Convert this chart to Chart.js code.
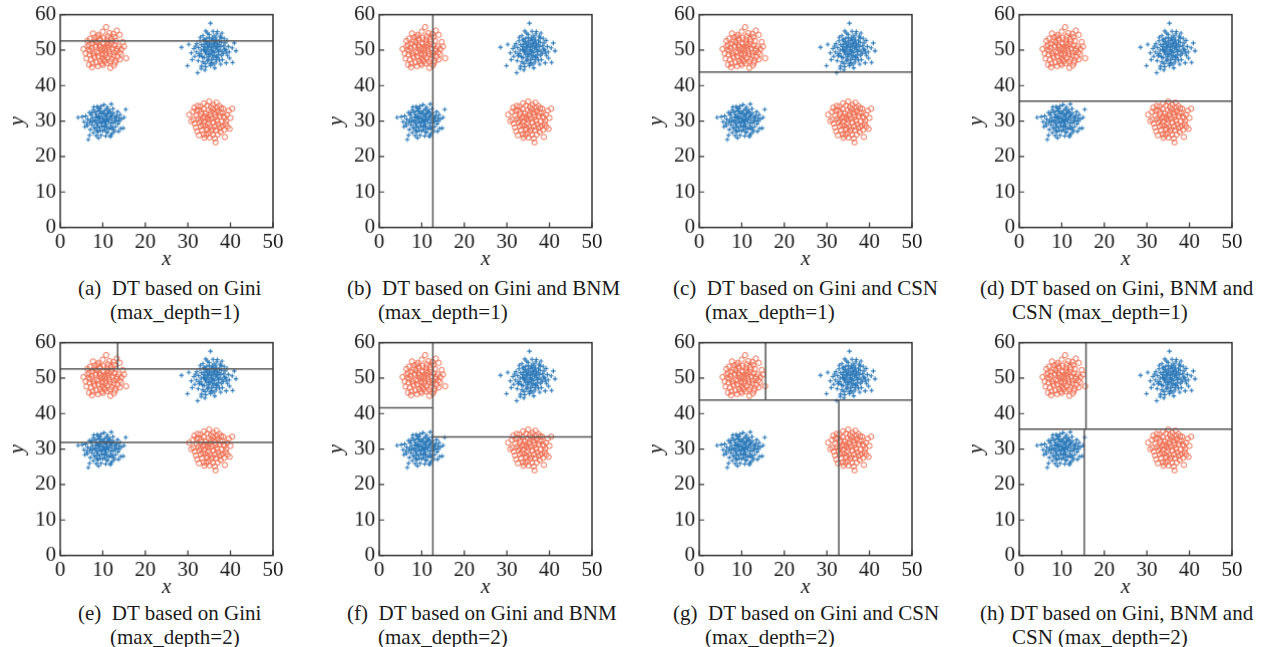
<!DOCTYPE html>
<html>
<head>
<meta charset="utf-8">
<script src="https://cdn.jsdelivr.net/npm/chart.js@4.4.0/dist/chart.umd.min.js"></script>
<style>
    body { margin: 0; background: #fff; width: 1262px; height: 647px; position: relative; overflow: hidden;
           font-family: "Liberation Serif", "Times New Roman", serif; color: #1a1a1a; }
    .box { position: absolute; }
    .cap { position: absolute; font-size: 21px; line-height: 24px; white-space: pre; color: #1a1a1a; }
</style>
</head>
<body>
<script>
// red class: circles, two clusters (top-left and bottom-right)
const redTopLeft = [
    [10.8,56.5],[13.3,55.5],[14.0,54.3],[12.5,54.6],[9.0,54.3],[8.2,53.6],[7.0,53.2],[6.4,52.6],[11.2,53.9],[10.2,53.4],
    [12.0,53.1],[13.1,52.6],[9.4,52.8],[8.6,52.2],[7.6,51.8],[6.8,51.5],[5.5,50.3],[6.6,50.1],[7.4,50.6],[8.3,50.9],
    [9.2,51.4],[10.1,51.8],[11.0,52.1],[11.9,51.6],[12.8,51.3],[13.7,51.0],[15.0,51.0],[14.4,50.3],[13.2,49.8],[12.3,50.4],
    [11.4,50.7],[10.5,50.2],[9.6,49.9],[8.7,49.5],[7.8,49.0],[6.9,48.7],[6.2,47.6],[7.2,47.4],[8.1,47.9],[9.0,48.3],
    [9.9,48.8],[10.8,49.2],[11.7,48.9],[12.6,48.4],[13.5,48.1],[14.3,48.9],[15.5,47.7],[13.0,47.0],[12.1,47.5],[11.2,47.9],
    [10.3,47.3],[9.4,46.9],[8.5,46.5],[7.6,46.2],[6.8,45.9],[7.5,45.2],[8.9,45.5],[10.0,45.8],[11.0,46.3],[11.8,45.0],
    [12.6,45.7],[9.6,50.9],[10.7,51.0],[8.0,52.7],[12.2,52.4],[13.9,49.4],[7.1,49.8],[9.9,47.7],[11.5,49.6],[10.4,46.8],
    [12.9,46.4],[6.0,49.1],[8.8,53.8],[11.6,54.8],[10.0,55.2],[7.7,54.7],[14.7,52.3],
    [10.0,50.5],[11.3,51.4],[9.1,49.2],[12.5,49.3],[8.4,51.3],[10.6,48.5],[13.3,50.4],[7.9,48.3],[11.0,53.0],[9.3,53.3],
    [12.7,53.7],[6.4,51.0],[14.0,47.4],[9.7,46.2],[11.7,46.8]
];
const redBottomRight = [
    [35.0,35.5],[36.7,35.2],[33.8,35.0],[32.3,34.3],[31.5,33.8],[34.5,34.4],[36.0,34.6],[37.4,34.2],[38.3,33.5],[40.4,33.5],
    [39.6,32.9],[30.3,31.8],[31.2,32.6],[32.6,33.1],[33.7,33.4],[34.8,33.0],[35.9,33.4],[37.0,32.8],[38.1,32.3],[39.2,31.8],
    [32.0,31.5],[33.1,31.9],[34.2,32.2],[35.3,31.7],[36.4,31.9],[37.5,31.4],[38.6,30.9],[31.3,30.4],[32.4,30.7],[33.5,30.9],
    [34.6,30.5],[35.7,30.8],[36.8,30.3],[37.9,29.9],[39.0,30.1],[40.0,30.9],[31.6,29.3],[32.7,29.6],[33.8,29.8],[34.9,29.4],
    [36.0,29.6],[37.1,29.1],[38.2,28.7],[39.3,28.4],[31.9,28.2],[33.0,28.5],[34.1,28.7],[35.2,28.3],[36.3,28.5],[37.4,28.0],
    [38.5,27.5],[32.2,27.1],[33.3,27.4],[34.4,27.6],[35.5,27.2],[36.6,27.4],[37.7,26.9],[38.7,25.5],[32.6,26.0],[33.7,26.3],
    [34.8,26.5],[35.9,26.1],[37.0,26.2],[33.9,25.3],[35.1,25.4],[36.3,25.1],[36.5,24.0],[34.6,31.1],[36.2,32.5],[33.2,32.6],
    [37.8,33.6],[35.4,34.0],[32.9,34.1],[38.9,29.2],[30.8,30.0],[39.8,27.8],
    [35.1,30.2],[34.0,31.3],[36.5,31.1],[35.5,32.6],[33.5,29.0],[36.9,29.9],[34.5,28.0],[37.6,32.2],[32.0,32.9],[38.5,31.3],
    [35.8,27.8],[33.0,30.2],[36.8,33.8],[34.3,26.0],[37.8,28.3]
];
// blue class: crosses, two clusters (top-right and bottom-left)
const blueTopRight = [
    [35.3,57.6],[28.5,50.8],[29.9,45.6],[32.3,43.6],[41.3,49.8],[40.5,46.5],[39.0,46.4],[35.9,55.3],[36.8,54.6],[34.6,54.8],
    [33.5,54.1],[36.1,54.0],[37.6,53.9],[38.5,53.3],[35.0,53.6],[33.9,53.0],[32.8,52.6],[34.3,52.4],[35.6,52.7],[36.7,52.9],
    [37.8,52.2],[39.2,52.7],[32.1,51.8],[33.2,51.5],[34.0,51.9],[35.1,51.4],[36.2,51.8],[37.3,51.5],[38.4,51.2],[39.5,51.0],
    [40.4,50.6],[31.4,50.4],[32.5,50.7],[33.6,50.2],[34.5,50.6],[35.5,50.1],[36.5,50.5],[37.5,50.0],[38.6,50.3],[39.7,49.5],
    [30.8,49.2],[32.0,49.5],[33.0,49.0],[34.1,49.4],[35.2,49.0],[36.2,49.3],[37.2,48.8],[38.3,49.0],[39.3,48.5],[31.6,48.2],
    [32.7,48.4],[33.8,47.9],[34.9,48.1],[35.9,47.7],[37.0,47.9],[38.1,47.3],[32.4,47.0],[33.5,46.7],[34.6,46.9],[35.6,46.4],
    [36.6,46.6],[37.7,46.0],[33.2,45.5],[34.2,45.3],[35.3,45.6],[36.3,45.0],[34.0,44.4],[33.1,44.8],[35.9,51.0],[34.8,50.9],
    [35.7,48.6],[36.9,50.8],[34.4,48.8],[36.4,52.2],[33.4,48.1],[37.9,48.5],[35.0,52.0],[36.0,49.8],[34.7,47.4],[37.4,52.6],
    [32.9,53.6],[35.7,53.3],[36.9,55.2],[38.0,54.8],[34.2,55.4],[38.9,50.1],[31.0,47.3],[39.8,47.7],[30.2,51.6],[40.9,52.0],
    [33.7,52.8],[36.6,47.3],[35.2,46.1],[37.1,49.6],[34.9,49.7],[36.3,48.4],
    [35.4,50.6],[34.6,51.5],[36.6,51.2],[35.8,49.4],[34.2,50.1],[37.0,50.2],[35.1,52.6],[36.0,52.9],[33.8,51.0],[37.7,51.0],
    [34.9,48.7],[36.7,48.2],[35.5,47.2],[33.9,49.9],[38.0,49.6],[34.4,53.3],[36.5,53.6],[35.0,54.4],[33.1,50.0],[38.7,52.0],
    [32.6,48.9],[36.1,46.0],[37.4,47.2],[34.0,46.2],[39.0,49.4],[31.8,51.1],[36.9,51.9],[35.6,51.6],[34.3,49.6],[37.8,53.4]
];
const blueBottomLeft = [
    [4.2,31.0],[5.2,31.2],[15.4,33.3],[12.0,34.8],[6.6,24.8],[14.8,28.0],[10.3,34.6],[8.7,34.1],[11.1,33.9],[9.4,33.5],
    [7.8,33.2],[12.4,33.5],[13.5,32.6],[6.9,32.4],[8.2,32.6],[9.3,32.8],[10.4,32.9],[11.4,32.5],[12.5,32.2],[14.1,31.8],
    [6.0,31.4],[7.3,31.7],[8.5,31.9],[9.7,32.0],[10.8,31.8],[11.9,31.5],[13.0,31.1],[14.4,30.6],[6.5,30.5],[7.6,30.8],
    [8.8,30.9],[9.9,31.0],[11.0,30.7],[12.1,30.4],[13.2,30.2],[5.6,29.8],[7.0,29.6],[8.1,29.9],[9.2,30.1],[10.3,30.2],
    [11.4,29.8],[12.5,29.5],[13.6,29.2],[6.4,28.7],[7.5,28.9],[8.6,29.0],[9.7,29.3],[10.8,29.1],[11.9,28.7],[13.0,28.4],
    [14.2,27.9],[7.1,27.6],[8.2,27.9],[9.3,28.1],[10.4,28.3],[11.5,27.8],[12.6,27.5],[13.7,27.1],[7.8,26.7],[8.9,26.9],
    [10.0,27.2],[11.1,26.8],[12.2,26.5],[6.9,26.0],[8.5,25.9],[9.6,26.0],[10.7,25.8],[11.8,25.6],[9.0,25.2],[10.1,30.6],
    [9.5,29.6],[10.9,31.3],[8.3,30.3],[11.7,31.0],[9.8,32.4],[10.6,28.8],[8.9,28.4],[12.8,30.8],[7.2,30.1],[9.1,31.4],
    [11.2,32.2],[12.3,28.1],[10.5,29.6],[13.9,30.0],[5.8,28.4],[15.0,31.0],[7.9,34.0],[11.9,26.0],[9.4,27.4],[10.9,33.4],
    [10.0,29.9],[9.3,30.7],[11.3,30.3],[10.6,31.5],[8.7,29.5],[11.9,29.3],[9.8,28.6],[10.2,32.2],[8.4,31.2],[12.2,31.6],
    [9.0,32.9],[11.6,33.0],[7.7,29.9],[12.9,29.9],[10.5,27.6],[8.0,28.2],[13.3,31.5],[9.6,34.2],[11.0,28.3],[7.4,32.3],
    [10.9,26.9],[12.7,27.0],[8.6,27.3],[13.8,30.8],[6.3,29.3],[10.7,30.0],[9.2,31.0],[11.8,32.5],[8.9,33.6],[12.0,28.0]
];

// decision boundaries for each panel: [x1, y1, x2, y2]
const splitsA = [[0,52.6,50,52.6]];
const splitsB = [[12.6,0,12.6,60]];
const splitsC = [[0,43.8,50,43.8]];
const splitsD = [[0,35.6,50,35.6]];
const splitsE = [[0,52.6,50,52.6],[13.5,52.6,13.5,60],[0,31.9,50,31.9]];
const splitsF = [[12.6,0,12.6,60],[0,41.6,12.6,41.6],[12.6,33.4,50,33.4]];
const splitsG = [[0,43.8,50,43.8],[15.6,43.8,15.6,60],[32.8,0,32.8,43.8]];
const splitsH = [[0,35.6,50,35.6],[15.7,35.6,15.7,60],[15.3,0,15.3,35.6]];

const captionLine1 = [
    '(a)  DT based on Gini', '(b)  DT based on Gini and BNM', '(c)  DT based on Gini and CSN', '(d) DT based on Gini, BNM and',
    '(e)  DT based on Gini', '(f)  DT based on Gini and BNM', '(g)  DT based on Gini and CSN', '(h) DT based on Gini, BNM and'
];
const captionLine2 = [
    '(max_depth=1)', '(max_depth=1)', '(max_depth=1)', 'CSN (max_depth=1)',
    '(max_depth=2)', '(max_depth=2)', '(max_depth=2)', 'CSN (max_depth=2)'
];

const xTicks = [0, 10, 20, 30, 40, 50];
const yTicks = [0, 10, 20, 30, 40, 50, 60];

const panelSplits = [splitsA, splitsB, splitsC, splitsD, splitsE, splitsF, splitsG, splitsH];
const plotLefts = [60, 379, 699, 1019];
const plotTops = [15, 343];
const plotSize = 212;
const cap1Lefts = [78, 347, 673, 980];
const cap2Lefts = [110, 378, 705, 1012];
const capTops = [276, 601];

const serif = '"Liberation Serif", "Times New Roman", serif';
const toPts = arr => arr.map(p => ({x: p[0], y: p[1]}));

// frame around plot area plus inward ticks on left and bottom
const frame = {
    id: 'frame',
    afterDraw(chart) {
        const {ctx, chartArea: a, scales: {x, y}} = chart;
        ctx.save();
        ctx.strokeStyle = '#333';
        ctx.lineWidth = 1.5;
        ctx.strokeRect(a.left, a.top, a.right - a.left, a.bottom - a.top);
        ctx.lineWidth = 1.2;
        ctx.beginPath();
        x.ticks.forEach(t => {
            const px = x.getPixelForValue(t.value);
            ctx.moveTo(px, a.bottom);
            ctx.lineTo(px, a.bottom - 5);
        });
        y.ticks.forEach(t => {
            const py = y.getPixelForValue(t.value);
            ctx.moveTo(a.left, py);
            ctx.lineTo(a.left + 5, py);
        });
        ctx.stroke();
        ctx.restore();
    }
};

panelSplits.forEach((splits, i) => {
    const col = i % 4, row = Math.floor(i / 4);
    const box = document.createElement('div');
    box.className = 'box';
    const canvas = document.createElement('canvas');
    canvas.width = 279;
    canvas.height = 268;
    box.appendChild(canvas);
    document.body.appendChild(box);

    const lineSets = splits.map(s => ({
        data: [{x: s[0], y: s[1]}, {x: s[2], y: s[3]}],
        showLine: true,
        borderColor: '#555',
        borderWidth: 1.5,
        pointRadius: 0,
        order: 0
    }));

    const chart = new Chart(canvas.getContext('2d'), {
        type: 'scatter',
        data: {
            datasets: [
                {
                    data: toPts(redTopLeft.concat(redBottomRight)),
                    pointStyle: 'circle',
                    pointRadius: 2.6,
                    borderWidth: 1,
                    borderColor: '#ee6a4c',
                    backgroundColor: 'rgba(255,255,255,0)',
                    order: 2
                },
                {
                    data: toPts(blueTopRight.concat(blueBottomLeft)),
                    pointStyle: 'cross',
                    pointRadius: 2.3,
                    borderWidth: 1.1,
                    borderColor: '#2a78b8',
                    order: 1
                },
                ...lineSets
            ]
        },
        options: {
            responsive: false,
            maintainAspectRatio: false,
            animation: false,
            layout: {padding: {top: 10, right: 12, left: 0, bottom: 0}},
            plugins: {legend: {display: false}, tooltip: {enabled: false}},
            scales: {
                x: {
                    type: 'linear', min: 0, max: 50,
                    afterBuildTicks: s => { s.ticks = xTicks.map(v => ({value: v})); },
                    afterFit: s => { s.height = 46; },
                    grid: {display: false, drawTicks: false},
                    border: {display: false},
                    ticks: {font: {family: serif, size: 21}, color: '#1a1a1a', padding: 2, maxRotation: 0},
                    title: {display: true, text: 'x', color: '#1a1a1a',
                            font: {family: serif, size: 21, style: 'italic'}, padding: {top: 0, bottom: 2}}
                },
                y: {
                    type: 'linear', min: 0, max: 60,
                    afterBuildTicks: s => { s.ticks = yTicks.map(v => ({value: v})); },
                    afterFit: s => { s.width = 55; },
                    grid: {display: false, drawTicks: false},
                    border: {display: false},
                    ticks: {font: {family: serif, size: 21}, color: '#1a1a1a', padding: 4},
                    title: {display: true, text: 'y', color: '#1a1a1a',
                            font: {family: serif, size: 21, style: 'italic'}, padding: {top: 0, bottom: 0}}
                }
            }
        },
        plugins: [frame]
    });

    // size the canvas so the plot area is square, then place it on the page
    const a = chart.chartArea;
    chart.resize(canvas.width + plotSize - (a.right - a.left), canvas.height + plotSize - (a.bottom - a.top));
    const b = chart.chartArea;
    box.style.left = (plotLefts[col] - b.left) + 'px';
    box.style.top = (plotTops[row] - b.top) + 'px';

    const c1 = document.createElement('div');
    c1.className = 'cap';
    c1.style.left = cap1Lefts[col] + 'px';
    c1.style.top = capTops[row] + 'px';
    c1.textContent = captionLine1[i];
    document.body.appendChild(c1);
    const c2 = document.createElement('div');
    c2.className = 'cap';
    c2.style.left = cap2Lefts[col] + 'px';
    c2.style.top = (capTops[row] + 24) + 'px';
    c2.textContent = captionLine2[i];
    document.body.appendChild(c2);
});
</script>
</body>
</html>
